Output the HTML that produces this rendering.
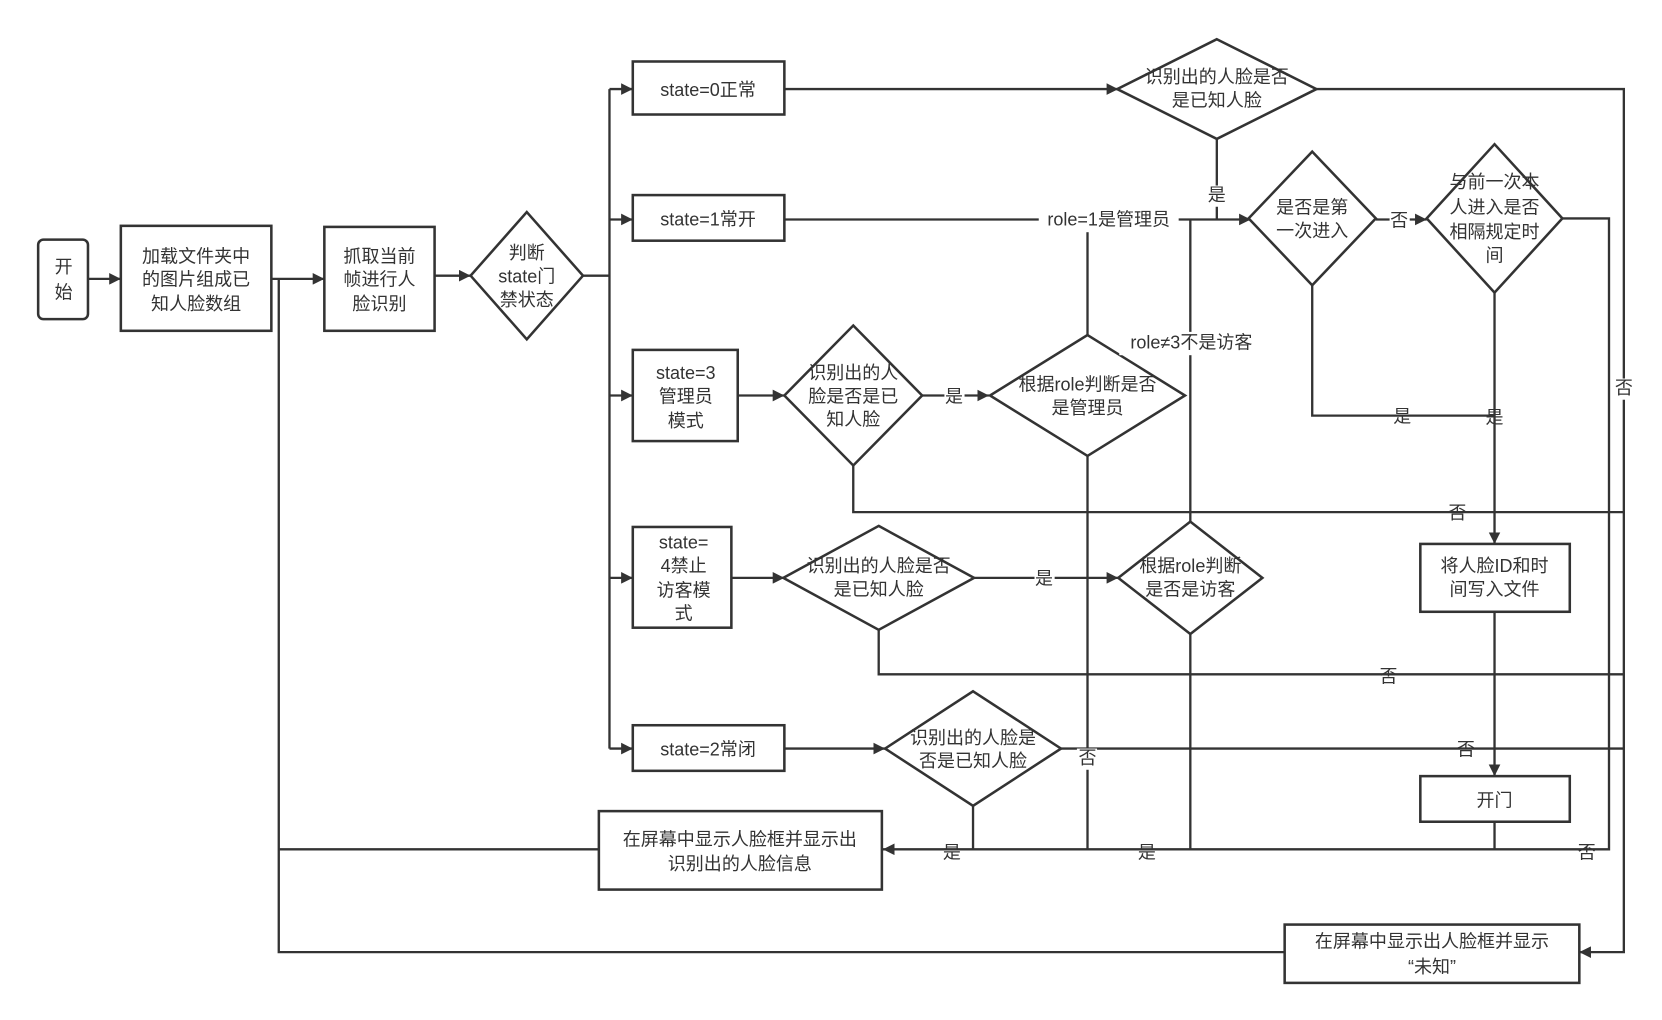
<!DOCTYPE html>
<html><head><meta charset="utf-8"><style>
html,body{margin:0;padding:0;background:#fff;}
svg{display:block}
text{font-family:"Liberation Sans","Noto Sans CJK SC",sans-serif;font-size:17px;fill:#333;text-anchor:middle;dominant-baseline:middle}
.s{stroke:#333;stroke-width:2.2;fill:none}
.b{stroke:#333;stroke-width:2.4;fill:#fff}
</style></head><body>
<svg width="1662" height="1020" viewBox="0 0 1568 962" preserveAspectRatio="none" xmlns="http://www.w3.org/2000/svg">
<defs><marker id="a" viewBox="0 0 10 10" refX="10" refY="5" markerWidth="5" markerHeight="5" orient="auto-start-reverse" markerUnits="strokeWidth"><path d="M0,0L10,5L0,10z" fill="#333"/></marker></defs>
<!-- connectors -->
<g class="s">
<path d="M83,263H114" marker-end="url(#a)"/>
<path d="M256,263H306" marker-end="url(#a)"/>
<path d="M410,260H444" marker-end="url(#a)"/>
<path d="M263,263V898H1212"/>
<path d="M565,801H263"/>
<path d="M550,260H575"/>
<path d="M575,84V706"/>
<path d="M575,84H597" marker-end="url(#a)"/>
<path d="M575,207H597" marker-end="url(#a)"/>
<path d="M575,373H597" marker-end="url(#a)"/>
<path d="M575,545H597" marker-end="url(#a)"/>
<path d="M575,706H597" marker-end="url(#a)"/>
<path d="M740,84H1055" marker-end="url(#a)"/>
<path d="M1242,84H1532V898H1490" marker-end="url(#a)"/>
<path d="M1148,131V207"/>
<path d="M740,207H1180" marker-end="url(#a)"/>
<path d="M1298,207H1346" marker-end="url(#a)"/>
<path d="M1474,206H1518V801H833" marker-end="url(#a)"/>
<path d="M1238,269V392H1410"/>
<path d="M1410,276V513" marker-end="url(#a)"/>
<path d="M1410,577V732" marker-end="url(#a)"/>
<path d="M1410,775V801"/>
<path d="M696,373H740" marker-end="url(#a)"/>
<path d="M870,373H933" marker-end="url(#a)"/>
<path d="M1026,316V207"/>
<path d="M1026,430V801"/>
<path d="M1123,207V492"/>
<path d="M1123,598V801"/>
<path d="M805,439V483H1532"/>
<path d="M690,545H740" marker-end="url(#a)"/>
<path d="M919,545H1055" marker-end="url(#a)"/>
<path d="M829,594V636H1532"/>
<path d="M740,706H835" marker-end="url(#a)"/>
<path d="M1001,706H1532"/>
<path d="M918,760V801"/>
</g>
<!-- shapes -->
<rect class="b" x="36" y="226" width="47" height="75" rx="5"/>
<rect class="b" x="114" y="213" width="142" height="99"/>
<rect class="b" x="306" y="214" width="104" height="98"/>
<path class="b" d="M497,200L550,260L497,320L444,260z"/>
<rect class="b" x="597" y="58" width="143" height="50"/>
<rect class="b" x="597" y="184" width="143" height="43"/>
<rect class="b" x="597" y="330" width="99" height="86"/>
<rect class="b" x="597" y="497" width="93" height="95"/>
<rect class="b" x="597" y="684" width="143" height="43"/>
<path class="b" d="M1148,37L1242,84L1148,131L1054,84z"/>
<path class="b" d="M1238,143L1298,206L1238,269L1178,206z"/>
<path class="b" d="M1410,136L1474,206L1410,276L1346,206z"/>
<rect class="b" x="1340" y="513" width="141" height="64"/>
<rect class="b" x="1340" y="732" width="141" height="43"/>
<path class="b" d="M805,307L870,373L805,439L740,373z"/>
<path class="b" d="M1026,316L1118,373L1026,430L934,373z"/>
<path class="b" d="M829,496L919,545L829,594L739,545z"/>
<path class="b" d="M1123,492L1191,545L1123,598L1055,545z"/>
<path class="b" d="M918,652L1001,706L918,760L835,706z"/>
<rect class="b" x="565" y="765" width="267" height="74"/>
<rect class="b" x="1212" y="872" width="278" height="55"/>
<!-- label backgrounds -->
<g fill="#fff">
<rect x="980" y="197" width="132" height="22"/>
<rect x="1056" y="313" width="136" height="22"/>
<rect x="1139" y="175" width="19" height="20"/>
<rect x="1311" y="199" width="19" height="20"/>
<rect x="1523" y="357" width="19" height="20"/>
<rect x="891" y="365" width="19" height="20"/>
<rect x="976" y="537" width="19" height="20"/>
<rect x="1016" y="706" width="19" height="20"/>
</g>
<!-- texts -->
<text x="60" y="253">开</text><text x="60" y="277">始</text>
<text x="185" y="243">加载文件夹中</text><text x="185" y="265">的图片组成已</text><text x="185" y="288">知人脸数组</text>
<text x="358" y="243">抓取当前</text><text x="358" y="265">帧进行人</text><text x="358" y="288">脸识别</text>
<text x="497" y="240">判断</text><text x="497" y="262">state门</text><text x="497" y="284">禁状态</text>
<text x="668" y="86">state=0正常</text>
<text x="668" y="208">state=1常开</text>
<text x="647" y="353">state=3</text><text x="647" y="375">管理员</text><text x="647" y="398">模式</text>
<text x="645" y="513">state=</text><text x="645" y="535">4禁止</text><text x="645" y="558">访客模</text><text x="645" y="580">式</text>
<text x="668" y="708">state=2常闭</text>
<text x="1148" y="74">识别出的人脸是否</text><text x="1148" y="96">是已知人脸</text>
<text x="1238" y="197">是否是第</text><text x="1238" y="219">一次进入</text>
<text x="1410" y="173">与前一次本</text><text x="1410" y="197">人进入是否</text><text x="1410" y="220">相隔规定时</text><text x="1410" y="242">间</text>
<text x="1410" y="535">将人脸ID和时</text><text x="1410" y="557">间写入文件</text>
<text x="1410" y="756">开门</text>
<text x="805" y="353">识别出的人</text><text x="805" y="375">脸是否是已</text><text x="805" y="397">知人脸</text>
<text x="1026" y="364">根据role判断是否</text><text x="1026" y="386">是管理员</text>
<text x="829" y="535">识别出的人脸是否</text><text x="829" y="557">是已知人脸</text>
<text x="1123" y="535">根据role判断</text><text x="1123" y="557">是否是访客</text>
<text x="918" y="697">识别出的人脸是</text><text x="918" y="719">否是已知人脸</text>
<text x="698" y="793">在屏幕中显示人脸框并显示出</text><text x="698" y="816">识别出的人脸信息</text>
<text x="1351" y="889">在屏幕中显示出人脸框并显示</text><text x="1351" y="913">“未知”</text>
<text x="1046" y="208">role=1是管理员</text>
<text x="1124" y="324">role≠3不是访客</text>
<text x="1148" y="185">是</text>
<text x="1320" y="209">否</text>
<text x="1532" y="367">否</text>
<text x="1323" y="394">是</text>
<text x="1410" y="395">是</text>
<text x="900" y="375">是</text>
<text x="985" y="547">是</text>
<text x="1375" y="485">否</text>
<text x="1310" y="639">否</text>
<text x="1383" y="708">否</text>
<text x="1026" y="716">否</text>
<text x="898" y="805">是</text>
<text x="1082" y="805">是</text>
<text x="1497" y="805">否</text>
</svg>
</body></html>
